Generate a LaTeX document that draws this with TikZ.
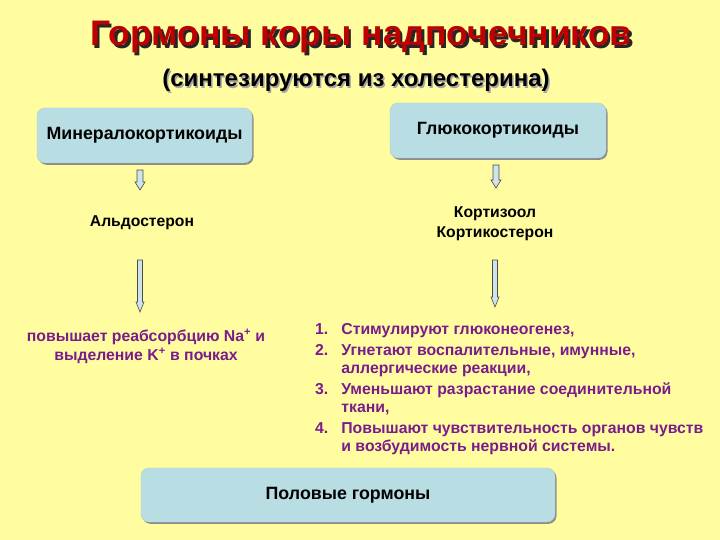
\documentclass[tikz,border=0pt]{standalone}
\usepackage{fontspec}
\setmainfont{Liberation Sans}
\usetikzlibrary{positioning,calc,shadows}

\definecolor{slidebg}{RGB}{255,253,160}
\definecolor{boxblue}{RGB}{184,222,228}
\definecolor{titlered}{RGB}{190,0,0}
\definecolor{textpurple}{RGB}{122,28,140}
\definecolor{arrowfill}{RGB}{205,228,234}

\tikzset{
  hormbox/.style={rounded corners=8pt, fill=boxblue, draw=boxblue!80!gray,
    drop shadow={shadow xshift=1.5pt, shadow yshift=-1.8pt, fill=black!45, opacity=1},
    font=\bfseries\fontsize{17.8}{21}\selectfont},
  hormtext/.style={font=\bfseries\fontsize{15.7}{19}\selectfont, align=center},
  effect/.style={font=\bfseries\fontsize{15.8}{19}\selectfont, text=textpurple, align=center},
  hollow/.style={draw=black!70, fill=arrowfill, line width=0.6pt, line join=miter}
}

% текст с тенью: #1 цвет тени, #2 сдвиг, #3 цвет текста, #4 текст
\newcommand\shadowed[4]{%
  \rlap{\kern#2\raisebox{-#2}{\textcolor{#1}{#4}}}\textcolor{#3}{#4}}

% полая стрелка вниз: #1 верх, #2 острие, #3 полуширина ствола, #4 полуширина головки, #5 длина головки
\newcommand\downarrowbox[5]{%
  \draw[hollow] let \p1=(#1), \p2=(#2) in
    (\x1-#3,\y1) -- (\x1+#3,\y1) -- (\x1+#3,\y2+#5) -- (\x1+#4,\y2+#5) --
    (\x1,\y2) -- (\x1-#4,\y2+#5) -- (\x1-#3,\y2+#5) -- cycle;}

\begin{document}
\begin{tikzpicture}[x=1pt,y=-1pt]
  \fill[slidebg] (0,0) rectangle (720,540);
  \useasboundingbox (0,0) rectangle (720,540);

  % заголовок
  \node[anchor=base, font=\bfseries\fontsize{35.5}{40}\selectfont] (title) at (361,46)
    {\shadowed{black!85}{2.5pt}{titlered}{Гормоны коры надпочечников}};
  \node[anchor=base, font=\bfseries\fontsize{24}{28}\selectfont] (subtitle) at (356,87)
    {\shadowed{black!35}{1.5pt}{black}{(синтезируются из холестерина)}};

  % группы гормонов
  \node[hormbox, minimum width=215pt, minimum height=55pt] (mineral) at (144.5,135.5) {Минералокортикоиды};
  \node[hormbox, minimum width=216pt, minimum height=55pt] (gluco) at (498,130.5) {Глюкокортикоиды};
  \node[hormbox, minimum width=414pt, minimum height=54pt] (sex) at (348,495) {Половые гормоны};

  % гормоны
  \node[hormtext, anchor=base] (aldo) at (142,226) {Альдостерон};
  \node[hormtext, anchor=base] (cortisol) at (495,218) {Кортизоол};
  \node[hormtext, anchor=base] (corticost) at (495,237) {Кортикостерон};

  % действие
  \node[effect, anchor=base] (aldoeff) at (146,341) {повышает реабсорбцию Na\textsuperscript{+} и};
  \node[effect, anchor=base] (aldoeff2) at (146,360) {выделение K\textsuperscript{+} в почках};
  \node[effect, anchor=north west, inner sep=0pt] (glucoeff) at (315,322) {%
    \fontsize{15.8}{18}\selectfont\def\arraystretch{1}%
    \begin{tabular}{@{}l@{\hspace{13pt}}l@{}}
      1. & Стимулируют глюконеогенез,\\[3pt]
      2. & Угнетают воспалительные, имунные,\\
         & аллергические реакции,\\[3pt]
      3. & Уменьшают разрастание соединительной\\
         & ткани,\\[3pt]
      4. & Повышают чувствительность органов чувств\\
         & и возбудимость нервной системы.
    \end{tabular}};

  % стрелки
  \coordinate (m1) at (140,170);
  \coordinate (m2) at (140,190);
  \coordinate (m3) at (140,260);
  \coordinate (m4) at (140,312);
  \coordinate (g1) at (496,165);
  \coordinate (g2) at (496,188);
  \coordinate (g3) at (495,260);
  \coordinate (g4) at (495,307);
  \downarrowbox{m1}{m2}{3pt}{5pt}{8pt}
  \downarrowbox{g1}{g2}{3pt}{5pt}{8pt}
  \downarrowbox{m3}{m4}{2.5pt}{4pt}{10pt}
  \downarrowbox{g3}{g4}{2.5pt}{4pt}{10pt}
\end{tikzpicture}
\end{document}
